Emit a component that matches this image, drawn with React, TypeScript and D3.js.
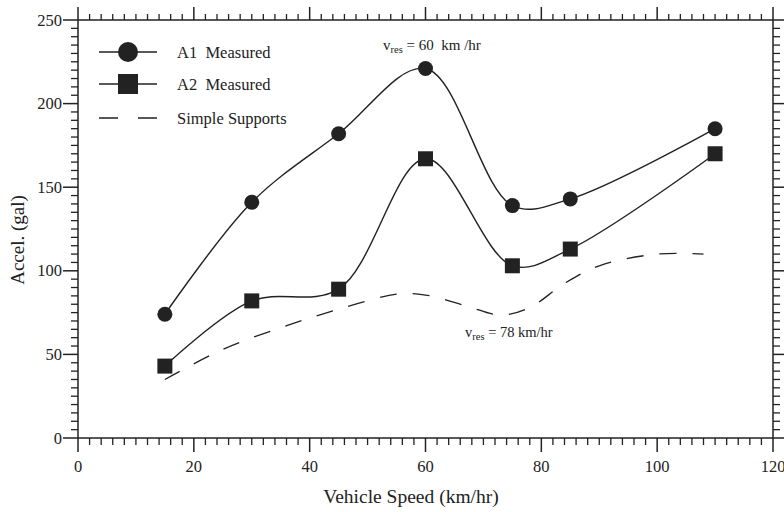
import React from "react";
import * as d3 from "d3";

const speeds = [15, 30, 45, 60, 75, 85, 110];
const a1Measured = [74, 141, 182, 221, 139, 143, 185];
const a2Measured = [43, 82, 89, 167, 103, 113, 170];
const simpleX = [15, 25, 35, 45, 55, 60, 67, 73, 78, 84, 90, 100, 108];
const simpleY = [35, 53, 66, 77, 86, 85.5, 79, 73.5, 78, 92.5, 103, 110, 110];
const xMajor = [0, 20, 40, 60, 80, 100, 120];
const yMajor = [0, 50, 100, 150, 200, 250];
const legendLabels = ["A1\u00a0\u00a0Measured", "A2\u00a0\u00a0Measured", "Simple Supports"];

const W = 784;
const H = 512;
const L = 78, R = 773, T = 20, B = 438;
const INK = "#222";
const FONT = "Liberation Serif, Times New Roman, serif";

export default function App() {
  const x = d3.scaleLinear().domain([0, 120]).range([L, R]);
  const y = d3.scaleLinear().domain([0, 250]).range([B, T]);

  const xMinor = d3.range(0, 120.001, 2).filter((v) => v % 20 !== 0);
  const yMinor = d3.range(0, 250.001, 5).filter((v) => v % 50 !== 0);

  const line = d3
    .line<[number, number]>()
    .x((d) => x(d[0]))
    .y((d) => y(d[1]))
    .curve(d3.curveCatmullRom.alpha(0.5));
  const dashLine = d3
    .line<[number, number]>()
    .x((d) => x(d[0]))
    .y((d) => y(d[1]))
    .curve(d3.curveCatmullRom.alpha(0.5));

  const a1 = speeds.map((s, i) => [s, a1Measured[i]] as [number, number]);
  const a2 = speeds.map((s, i) => [s, a2Measured[i]] as [number, number]);
  const ss = simpleX.map((s, i) => [s, simpleY[i]] as [number, number]);

  const sq = 15;
  const cr = 7.5;

  return (
    <svg
      width={W}
      height={H}
      style={{ position: "absolute", left: 0, top: 0, background: "#fff", fontFamily: FONT }}
    >
      <rect x={0} y={0} width={W} height={H} fill="#fff" />
      <rect x={L} y={T} width={R - L} height={B - T} fill="none" stroke={INK} strokeWidth={1.5} />

      {xMajor.map((v) => (
        <g key={"xm" + v}>
          <line x1={x(v)} x2={x(v)} y1={B} y2={B + 14} stroke={INK} strokeWidth={1.5} />
          <line x1={x(v)} x2={x(v)} y1={T} y2={T - 13} stroke={INK} strokeWidth={1.5} />
          <text x={x(v)} y={472} textAnchor="middle" fontSize={16.5} fill={INK}>
            {v}
          </text>
        </g>
      ))}
      {xMinor.map((v) => (
        <g key={"xn" + v}>
          <line x1={x(v)} x2={x(v)} y1={B} y2={B + 7} stroke={INK} strokeWidth={1.3} />
          <line x1={x(v)} x2={x(v)} y1={T} y2={T - 6} stroke={INK} strokeWidth={1.3} />
        </g>
      ))}

      {yMajor.map((v) => (
        <g key={"ym" + v}>
          <line x1={L} x2={L - 15} y1={y(v)} y2={y(v)} stroke={INK} strokeWidth={1.5} />
          <line x1={R} x2={R + 14} y1={y(v)} y2={y(v)} stroke={INK} strokeWidth={1.5} />
          <text x={62} y={y(v) + 5.5} textAnchor="end" fontSize={16.5} fill={INK}>
            {v}
          </text>
        </g>
      ))}
      {yMinor.map((v) => (
        <g key={"yn" + v}>
          <line x1={L} x2={L - 7} y1={y(v)} y2={y(v)} stroke={INK} strokeWidth={1.3} />
          <line x1={R} x2={R + 7} y1={y(v)} y2={y(v)} stroke={INK} strokeWidth={1.3} />
        </g>
      ))}

      <text x={411} y={503} textAnchor="middle" fontSize={19.5} fill={INK}>
        Vehicle Speed (km/hr)
      </text>
      <text transform={`translate(24,240) rotate(-90)`} textAnchor="middle" fontSize={19} fill={INK}>
        Accel. (gal)
      </text>

      <path d={dashLine(ss) || ""} fill="none" stroke={INK} strokeWidth={1.3} strokeDasharray="17,16" />
      <path d={line(a1) || ""} fill="none" stroke={INK} strokeWidth={1.4} />
      <path d={line(a2) || ""} fill="none" stroke={INK} strokeWidth={1.4} />
      {a1.map((d, i) => (
        <circle key={"c" + i} cx={x(d[0])} cy={y(d[1])} r={cr} fill={INK} />
      ))}
      {a2.map((d, i) => (
        <rect key={"s" + i} x={x(d[0]) - sq / 2} y={y(d[1]) - sq / 2} width={sq} height={sq} fill={INK} />
      ))}

      <g>
        <line x1={99} x2={157} y1={52} y2={52} stroke={INK} strokeWidth={1.4} />
        <circle cx={128} cy={52} r={10} fill={INK} />
        <text x={177} y={57.5} fontSize={16.5} fill={INK}>{legendLabels[0]}</text>
        <line x1={99} x2={157} y1={84} y2={84} stroke={INK} strokeWidth={1.4} />
        <rect x={118} y={74} width={20} height={20} fill={INK} />
        <text x={177} y={89.5} fontSize={16.5} fill={INK}>{legendLabels[1]}</text>
        <line x1={99} x2={157} y1={118} y2={118} stroke={INK} strokeWidth={1.4} strokeDasharray="19,20" />
        <text x={177} y={123.5} fontSize={16.5} fill={INK}>{legendLabels[2]}</text>
      </g>

      <text x={383} y={50} fontSize={15} fill={INK}>
        v<tspan fontSize={10.5} dy={3}>res</tspan>
        <tspan dy={-3}>{" = 60\u00a0\u00a0km /hr"}</tspan>
      </text>
      <text x={465} y={337} fontSize={14.5} fill={INK}>
        v<tspan fontSize={10.5} dy={3}>res</tspan>
        <tspan dy={-3}>{" = 78 km/hr"}</tspan>
      </text>
    </svg>
  );
}
